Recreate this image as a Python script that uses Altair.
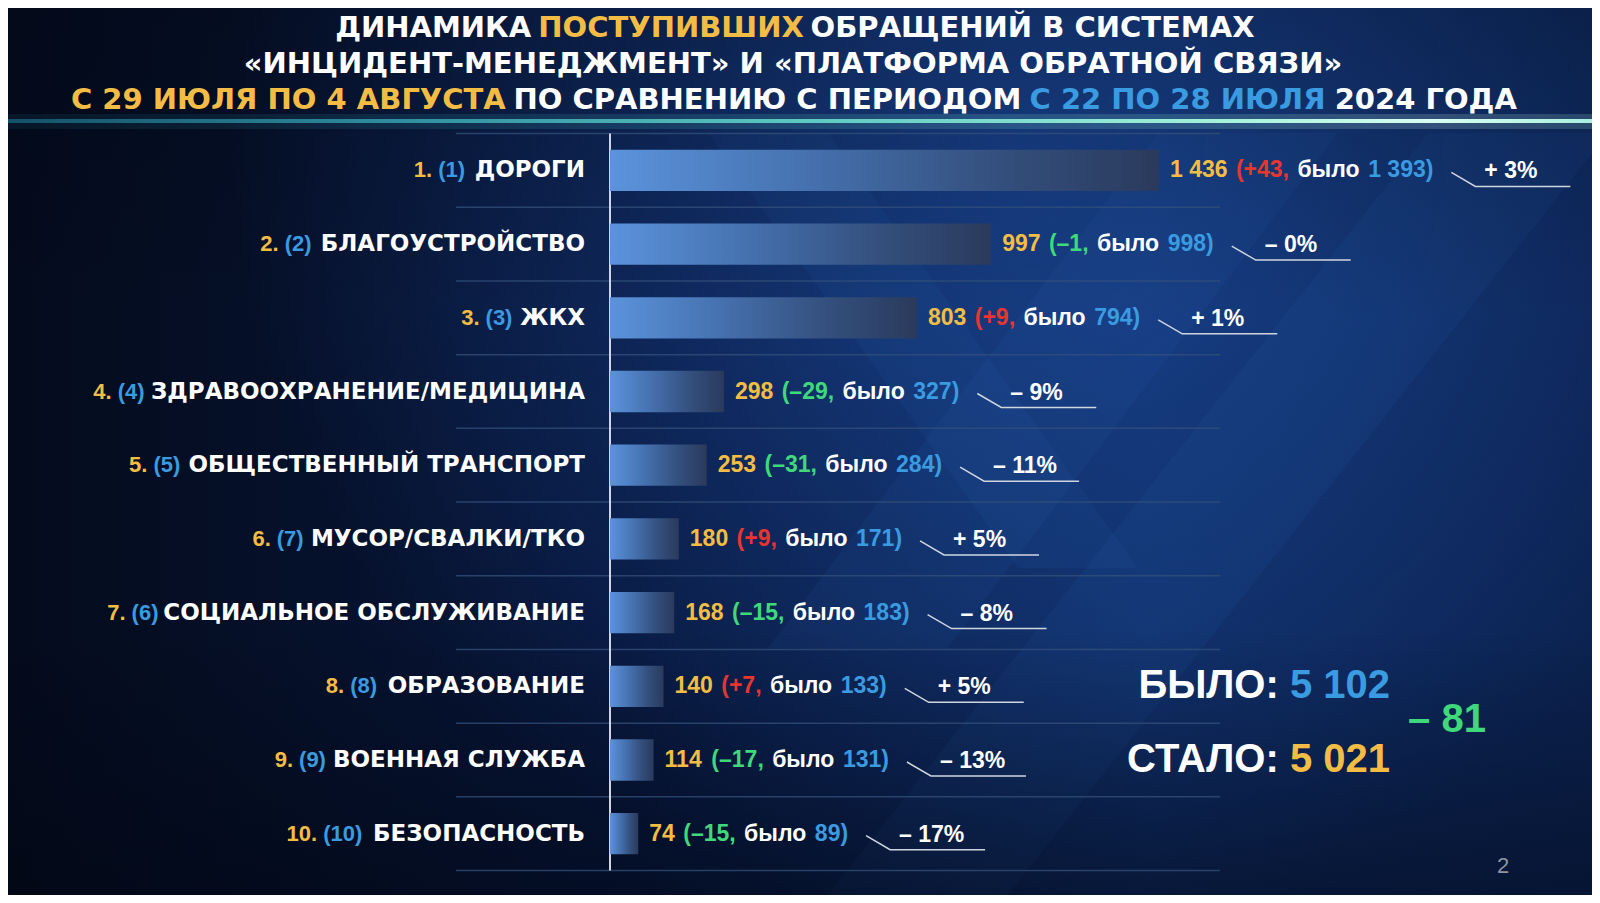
import altair as alt
import pandas as pd

# ---------------- data ----------------
categories = ["ДОРОГИ", "БЛАГОУСТРОЙСТВО", "ЖКХ", "ЗДРАВООХРАНЕНИЕ/МЕДИЦИНА",
              "ОБЩЕСТВЕННЫЙ ТРАНСПОРТ", "МУСОР/СВАЛКИ/ТКО", "СОЦИАЛЬНОЕ ОБСЛУЖИВАНИЕ",
              "ОБРАЗОВАНИЕ", "ВОЕННАЯ СЛУЖБА", "БЕЗОПАСНОСТЬ"]
rank_prev = [1, 2, 3, 4, 5, 7, 6, 8, 9, 10]
current = [1436, 997, 803, 298, 253, 180, 168, 140, 114, 74]
previous = [1393, 998, 794, 327, 284, 171, 183, 133, 131, 89]
total_prev = 5102
total_now = 5021
title_line1 = ["ДИНАМИКА", "ПОСТУПИВШИХ", "ОБРАЩЕНИЙ В СИСТЕМАХ"]
title_line2 = "«ИНЦИДЕНТ-МЕНЕДЖМЕНТ» И «ПЛАТФОРМА ОБРАТНОЙ СВЯЗИ»"
title_line3 = ["С 29 ИЮЛЯ ПО 4 АВГУСТА", "ПО СРАВНЕНИЮ С ПЕРИОДОМ", "С 22 ПО 28 ИЮЛЯ", "2024 ГОДА"]
label_was = "БЫЛО:"
label_now = "СТАЛО:"
word_was = "было"
page_number = "2"

# ---------------- style ----------------
GOLD = "#f3bd45"
BLUE = "#3a9be0"
RED = "#e8352f"
GREEN = "#3fd97c"
WHITE = "#ffffff"
LINE = "#cfd6e0"
F_LABEL = "DejaVu Sans"
F_VAL = "Liberation Sans"

W, H = 1584, 887
X0, K = 602.0, 549.0 / 1436.0
Y1, S = 162.4, 73.7


def ux(p):
    return (p - X0) / K


def ry(p):
    return 1 + (p - Y1) / S


xs = alt.Scale(domain=[ux(0), ux(W)], range=[0, W], nice=False, zero=False)
ys = alt.Scale(domain=[ry(0), ry(H)], range=[0, H], nice=False, zero=False)

# approximate advance widths (em)
ARIAL_B = {" ": .278, "(": .333, ")": .333, "+": .584, ",": .278, "–": .556, "-": .333,
           "%": .889, ".": .278, ":": .333, "/": .278, "б": .611, "ы": .85, "л": .64, "о": .611}
for d in "0123456789":
    ARIAL_B[d] = .556
DJV_B = {" ": .348, "«": .646, "»": .646, "-": .415, ".": .38, "/": .365, "А": .774, "Б": .762, "В": .762,
         "Г": .637, "Д": .83, "Е": .683, "Ж": 1.13, "З": .70, "И": .837, "Й": .837, "К": .775,
         "Л": .80, "М": .995, "Н": .837, "О": .85, "П": .837, "Р": .733, "С": .734, "Т": .682,
         "У": .724, "Ф": .97, "Х": .771, "Ц": .86, "Ч": .80, "Ш": 1.17, "Щ": 1.2, "Ъ": .93,
         "Ы": 1.04, "Ь": .762, "Э": .734, "Ю": 1.17, "Я": .77}
for d in "0123456789":
    DJV_B[d] = .696


def tw(s, table, size):
    return sum(table.get(c, 0.6) for c in s) * size


def fmt(n):
    return f"{n:,}".replace(",", " ")


VAL_SIZE = 23
LBL_SIZE = 23
NUM_SIZE = 22
SP = ARIAL_B[" "] * VAL_SIZE + 2

rows, pts = [], []
for i, (name, rp, cur, prv) in enumerate(zip(categories, rank_prev, current, previous)):
    r = i + 1
    d = cur - prv
    sg = "+" if d > 0 else "–"
    pct = round(abs(d) / prv * 100)
    seg = [fmt(cur), f"({sg}{abs(d)},", word_was, f"{fmt(prv)})"]
    xpx = [0.0]
    for s in seg[:-1]:
        xpx.append(xpx[-1] + tw(s, ARIAL_B, VAL_SIZE) + SP)
    w = xpx[-1] + tw(seg[-1], ARIAL_B, VAL_SIZE)
    tx = cur + 11 / K
    c0 = tx + (w + 18) / K
    c1 = c0 + 24 / K
    c2 = c1 + 95 / K
    # left label pieces
    name_w = tw(name, DJV_B, LBL_SIZE)
    prev_lbl = f"({rp})"
    prev_x = 577 - name_w - 11
    rank_x = prev_x - tw(prev_lbl, ARIAL_B, NUM_SIZE) - 6
    rows.append(dict(rank=r, zero=0, cur=cur, y0=r - 0.28, y1=r + 0.28,
                     lx=ux(577), name=name, px_prev=ux(prev_x), lab_prev=prev_lbl,
                     px_rank=ux(rank_x), lab_rank=f"{r}.",
                     x1=tx, x2=tx + xpx[1] / K, x3=tx + xpx[2] / K, x4=tx + xpx[3] / K,
                     s1=seg[0], s2=seg[1], s3=seg[2], s4=seg[3],
                     dcol=RED if d > 0 else GREEN,
                     ppx=c1 + 9 / K, ppy=r + 1 / S, pct=f"{sg} {pct}%"))
    for k, (cx, cy) in enumerate([(c0, r + 2 / S), (c1, r + 16 / S), (c2, r + 16 / S)]):
        pts.append(dict(rank=r, pt=k, cx=cx, cy=cy))
df = pd.DataFrame(rows)
cdf = pd.DataFrame(pts)


def X(f):
    return alt.X(f, type="quantitative", scale=xs, axis=None)


def Y(f):
    return alt.Y(f, type="quantitative", scale=ys, axis=None)


def text(data, xf, yf, tf, color, size, font, align, weight="bold", opacity=1.0):
    return alt.Chart(data).mark_text(align=align, baseline="middle", font=font, fontSize=size,
                                     fontWeight=weight, color=color, opacity=opacity).encode(
        x=X(xf), y=Y(yf), text=alt.Text(tf, type="nominal"))


one = pd.DataFrame({"a": [0]})


# ---------------- background ----------------
def full_rect(color, y0=0, y1=H, opacity=1.0):
    return alt.Chart(one).mark_rect(color=color, opacity=opacity).encode(
        x=alt.value(0), x2=alt.value(W), y=alt.value(y0), y2=alt.value(y1))


bg = full_rect({"gradient": "linear", "x1": 0, "y1": 0, "x2": 1, "y2": 0,
                "stops": [{"offset": 0, "color": "#040b1c"}, {"offset": 0.4, "color": "#07163a"},
                          {"offset": 0.72, "color": "#0d285c"}, {"offset": 1, "color": "#0b2250"}]})
glow_bg = full_rect({"gradient": "radial", "x1": 0.64, "y1": 0.3, "r1": 0, "x2": 0.64, "y2": 0.3, "r2": 0.5,
                     "stops": [{"offset": 0, "color": "rgba(40,100,205,0.45)"},
                               {"offset": 1, "color": "rgba(40,100,205,0)"}]})
vignette = full_rect({"gradient": "linear", "x1": 0, "y1": 0, "x2": 0, "y2": 1,
                      "stops": [{"offset": 0, "color": "rgba(0,4,14,0.25)"},
                                {"offset": 0.35, "color": "rgba(0,4,14,0)"},
                                {"offset": 0.7, "color": "rgba(0,4,14,0)"},
                                {"offset": 1, "color": "rgba(0,4,14,0.45)"}]})
# faint diagonal chevron bands
bands = pd.DataFrame({
    "band": ["a", "a", "b", "b", "c", "c"],
    "y": [ry(125), ry(640), ry(125), ry(560), ry(125), ry(887)],
    "xa": [ux(1150), ux(760), ux(700), ux(1010), ux(1420), ux(820)],
    "xb": [ux(1330), ux(940), ux(820), ux(1130), ux(1600), ux(1000)],
})
band_layer = alt.Chart(bands).mark_area(orient="horizontal", color="#3f7fd8", opacity=0.07).encode(
    y=Y("y"), x=X("xa"), x2="xb", detail="band:N")

line_grad = {"gradient": "linear", "x1": 0, "y1": 0, "x2": 1, "y2": 0,
             "stops": [{"offset": 0, "color": "#15506a"}, {"offset": 0.25, "color": "#2f8fa0"},
                       {"offset": 0.5, "color": "#5cc8c0"}, {"offset": 0.75, "color": "#9ff0d8"},
                       {"offset": 0.9, "color": "#d8fff0"}, {"offset": 1, "color": "#a8f0e0"}]}
glow_soft = full_rect(line_grad, 106, 121, 0.18)
glow_line = full_rect(line_grad, 111, 115, 1.0)

# ---------------- title ----------------
T_SIZE = 29
TCX = 785


def title_line(parts, colors, y_px):
    sp = DJV_B[" "] * T_SIZE
    widths = [tw(p, DJV_B, T_SIZE) for p in parts]
    total = sum(widths) + sp * (len(parts) - 1)
    x = TCX - total / 2
    xsx = []
    for wdt in widths:
        xsx.append(ux(x))
        x += wdt + sp
    d = pd.DataFrame({"tx": xsx, "ty": [ry(y_px)] * len(parts), "t": parts, "c": colors})
    return alt.Chart(d).mark_text(align="left", baseline="middle", font=F_LABEL, fontSize=T_SIZE,
                                  fontWeight="bold").encode(
        x=X("tx"), y=Y("ty"), text="t:N", color=alt.Color("c:N", scale=None, legend=None))


t1 = title_line(title_line1, [WHITE, GOLD, WHITE], 19.6)
d2 = pd.DataFrame({"tx": [ux(TCX)], "ty": [ry(56.3)], "t": [title_line2]})
t2 = text(d2, "tx", "ty", "t", WHITE, T_SIZE, F_LABEL, "center")
t3 = title_line(title_line3, [GOLD, WHITE, BLUE, WHITE], 92)

# ---------------- grid ----------------
sep = pd.DataFrame({"y": [k + 0.5 for k in range(11)], "xa": ux(448), "xb": ux(1212)})
seps = alt.Chart(sep).mark_rule(color="#34507a", strokeWidth=1.5, opacity=0.75).encode(
    x=X("xa"), x2="xb", y=Y("y"))
axl = pd.DataFrame({"x": [0], "ya": [0.5], "yb": [10.5]})
axis_line = alt.Chart(axl).mark_rule(color="#d0d6e0", strokeWidth=2).encode(x=X("x"), y=Y("ya"), y2="yb")

# ---------------- bars ----------------
bar_grad = {"gradient": "linear", "x1": 0, "y1": 0, "x2": 1, "y2": 0,
            "stops": [{"offset": 0, "color": "#5b93dc"}, {"offset": 0.35, "color": "#4672b0"},
                      {"offset": 0.7, "color": "#34507e"}, {"offset": 1, "color": "#2a3a5c"}]}
bars = alt.Chart(df).mark_rect(color=bar_grad).encode(x=X("zero"), x2="cur", y=Y("y0"), y2="y1")

# ---------------- labels ----------------
labels = [text(df, "lx", "rank", "name", WHITE, LBL_SIZE, F_LABEL, "right"),
          text(df, "px_prev", "rank", "lab_prev", BLUE, NUM_SIZE, F_VAL, "right"),
          text(df, "px_rank", "rank", "lab_rank", GOLD, NUM_SIZE, F_VAL, "right")]

vals = [text(df, "x1", "rank", "s1", GOLD, VAL_SIZE, F_VAL, "left"),
        alt.Chart(df).mark_text(align="left", baseline="middle", font=F_VAL, fontSize=VAL_SIZE,
                                fontWeight="bold").encode(
            x=X("x2"), y=Y("rank"), text="s2:N", color=alt.Color("dcol:N", scale=None, legend=None)),
        text(df, "x3", "rank", "s3", WHITE, VAL_SIZE, F_VAL, "left"),
        text(df, "x4", "rank", "s4", BLUE, VAL_SIZE, F_VAL, "left")]

callouts = alt.Chart(cdf).mark_line(color=LINE, strokeWidth=1.5).encode(
    x=X("cx"), y=Y("cy"), detail="rank:N", order="pt:Q")
pcts = text(df, "ppx", "ppy", "pct", WHITE, VAL_SIZE, F_VAL, "left")

# ---------------- totals ----------------
TOT = 40
nums = [fmt(total_prev), fmt(total_now)]
lab_x = [ux(1382 - tw(n, ARIAL_B, TOT) - ARIAL_B[" "] * TOT) for n in nums]
tot = pd.DataFrame({"x": [ux(1382), ux(1382)], "lx": lab_x, "y": [ry(678), ry(752)],
                    "lab": [label_was, label_now], "num": nums, "c": [BLUE, GOLD]})
diff = total_now - total_prev
tot_layers = [text(tot, "lx", "y", "lab", WHITE, TOT, F_VAL, "right"),
              alt.Chart(tot).mark_text(align="right", baseline="middle", font=F_VAL, fontSize=TOT,
                                       fontWeight="bold").encode(
                  x=X("x"), y=Y("y"), text="num:N", color=alt.Color("c:N", scale=None, legend=None))]
dd = pd.DataFrame({"x": [ux(1439)], "y": [ry(712)],
                   "t": [f"{'–' if diff < 0 else '+'} {abs(diff)}"]})
tot_layers.append(text(dd, "x", "y", "t", GREEN, TOT, F_VAL, "center"))
pg = pd.DataFrame({"x": [ux(1495)], "y": [ry(858)], "t": [page_number]})
tot_layers.append(text(pg, "x", "y", "t", "#8a95a6", 22, F_VAL, "center", weight="normal"))

chart = alt.layer(bg, glow_bg, band_layer, vignette, glow_soft, glow_line, t1, t2, t3, seps, axis_line,
                  bars, *labels, *vals, callouts, pcts, *tot_layers).properties(
    width=W, height=H, autosize=alt.AutoSizeParams(type="none"), padding=0,
    background="#050c1f").configure_view(stroke=None)

chart.save("out.html", embed_options={"renderer": "svg", "actions": False})
